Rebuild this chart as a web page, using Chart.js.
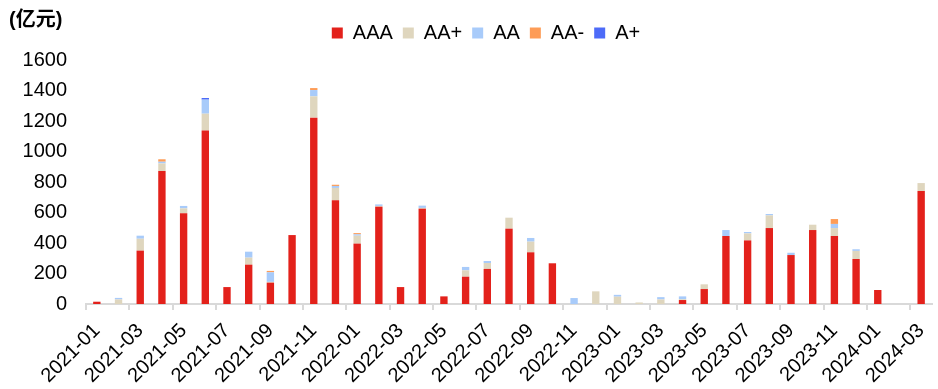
<!DOCTYPE html>
<html>
<head>
<meta charset="utf-8">
<script src="https://cdn.jsdelivr.net/npm/chart.js@4.4.1/dist/chart.umd.min.js"></script>
<style>
  html, body { margin: 0; padding: 0; background: #fff; }
  #wrap { width: 938px; height: 389px; }
</style>
</head>
<body>
<div id="wrap"><canvas id="chart" width="938" height="389"></canvas></div>
<script>
  // monthly issuance by rating, 亿元
  const months = [
    '2021-01', '2021-02', '2021-03', '2021-04', '2021-05', '2021-06', '2021-07', '2021-08', '2021-09', '2021-10', '2021-11', '2021-12',
    '2022-01', '2022-02', '2022-03', '2022-04', '2022-05', '2022-06', '2022-07', '2022-08', '2022-09', '2022-10', '2022-11', '2022-12',
    '2023-01', '2023-02', '2023-03', '2023-04', '2023-05', '2023-06', '2023-07', '2023-08', '2023-09', '2023-10', '2023-11', '2023-12',
    '2024-01', '2024-02', '2024-03'
  ];
  const aaa = [15, 0, 350, 872, 595, 1137, 111, 258, 140, 452, 1222, 680,
    396, 638, 111, 625, 50, 179, 230, 494, 339, 267, 0, 0,
    0, 0, 0, 26, 98, 446, 417, 498, 321, 485, 446, 295,
    92, 0, 741];
  const aaPlus = [0, 30, 78, 50, 32, 111, 0, 46, 5, 0, 140, 81,
    52, 5, 0, 5, 0, 42, 39, 72, 70, 0, 0, 83,
    48, 10, 30, 5, 31, 0, 46, 83, 0, 35, 52, 53,
    0, 0, 52];
  const aa = [0, 10, 20, 11, 16, 92, 0, 39, 63, 0, 41, 13,
    9, 10, 0, 15, 0, 22, 13, 0, 24, 0, 39, 0,
    12, 0, 15, 19, 0, 39, 9, 9, 15, 0, 27, 11,
    0, 0, 0];
  const aaMinus = [0, 0, 0, 16, 0, 0, 0, 0, 9, 0, 13, 8,
    8, 0, 0, 0, 0, 0, 0, 0, 0, 0, 0, 0,
    0, 0, 0, 0, 0, 0, 0, 0, 0, 0, 32, 0,
    0, 0, 0];
  const aPlus = [0, 0, 0, 0, 0, 11, 0, 0, 0, 0, 0, 0,
    0, 0, 0, 0, 0, 0, 0, 0, 0, 0, 0, 0,
    0, 0, 0, 0, 0, 0, 0, 0, 0, 0, 0, 0,
    0, 0, 0];
  const yTicks = [0, 200, 400, 600, 800, 1000, 1200, 1400, 1600];

  const FONT = '"Liberation Sans", Arial, "Noto Sans CJK SC", sans-serif';
  const AXIS_GREY = '#d9d9d9';

  function series(label, data, color) {
    return {
      label: label,
      data: data,
      backgroundColor: color,
      borderWidth: 0,
      categoryPercentage: 1,
      barPercentage: 0.34
    };
  }

  // legend needs a bit more room below it, and sits a little right of centre
  const legendTweak = {
    id: 'legendTweak',
    beforeInit(chart) {
      const fit = chart.legend.fit;
      chart.legend.fit = function () {
        fit.call(this);
        this.height += 7;
      };
    },
    afterLayout(chart) {
      chart.legend.left += 20;
      chart.legend.right += 20;
    }
  };

  const unitLabel = {
    id: 'unitLabel',
    afterDraw(chart) {
      const ctx = chart.ctx;
      ctx.save();
      ctx.font = 'bold 20px ' + FONT;
      ctx.fillStyle = '#000';
      ctx.textBaseline = 'middle';
      ctx.textAlign = 'left';
      ctx.fillText('(亿元)', 9, 20);
      ctx.restore();
    }
  };

  const config = {
    type: 'bar',
    data: {
      labels: months,
      datasets: [
        series('AAA', aaa, '#e3211b'),
        series('AA+', aaPlus, '#dfd6be'),
        series('AA', aa, '#a8cbfa'),
        series('AA-', aaMinus, '#fd9c57'),
        series('A+', aPlus, '#4d6bf8')
      ]
    },
    options: {
      responsive: false,
      animation: false,
      devicePixelRatio: 1,
      layout: {
        padding: { top: 13, right: 6, bottom: 0, left: 0 }
      },
      scales: {
        x: {
          stacked: true,
          grid: {
            drawOnChartArea: false,
            drawTicks: true,
            tickLength: 6,
            lineWidth: 2,
            tickColor: function (ctx) {
              return ctx.index % 2 === 0 ? AXIS_GREY : 'rgba(0,0,0,0)';
            }
          },
          border: { color: AXIS_GREY, width: 2 },
          ticks: {
            autoSkip: false,
            minRotation: 45,
            maxRotation: 45,
            color: '#000',
            padding: 9,
            font: { family: FONT, size: 20 },
            callback: function (value, index) {
              return index % 2 === 0 ? this.getLabelForValue(value) : '';
            }
          },
          afterFit: function (scale) {
            scale.height = 85;
            scale.paddingLeft = 0;
            scale.paddingRight = 0;
          }
        },
        y: {
          stacked: true,
          min: 0,
          max: 1600,
          grid: { display: false, drawTicks: false },
          border: { display: false },
          afterBuildTicks: function (scale) {
            scale.ticks = yTicks.map(function (v) { return { value: v }; });
          },
          ticks: {
            color: '#000',
            padding: 19,
            font: { family: FONT, size: 20 },
            callback: function (value) {
              return String(value);
            }
          },
          afterFit: function (scale) {
            scale.width = 86;
          }
        }
      },
      plugins: {
        legend: {
          position: 'top',
          labels: {
            boxWidth: 11,
            boxHeight: 11,
            padding: 10,
            color: '#000',
            font: { family: FONT, size: 20 }
          }
        },
        tooltip: { enabled: false }
      }
    },
    plugins: [legendTweak, unitLabel]
  };

  new Chart(document.getElementById('chart'), config);
</script>
</body>
</html>
